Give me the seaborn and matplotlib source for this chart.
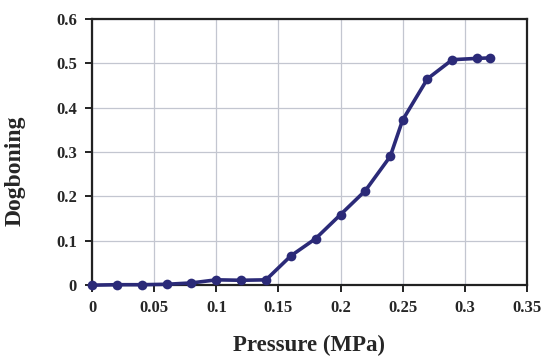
import matplotlib
matplotlib.use("Agg")
import matplotlib.pyplot as plt
import pandas as pd
import seaborn as sns

# Pressure vs dogboning readings
pressure = [0.0, 0.02, 0.04, 0.06, 0.08, 0.10, 0.12, 0.14, 0.16, 0.18,
            0.20, 0.22, 0.24, 0.25, 0.27, 0.29, 0.31, 0.32]
dogboning = [0.0, 0.001, 0.001, 0.002, 0.005, 0.012, 0.011, 0.012, 0.066, 0.105,
             0.159, 0.213, 0.290, 0.372, 0.465, 0.508, 0.511, 0.512]

x_ticks = [0, 0.05, 0.1, 0.15, 0.2, 0.25, 0.3, 0.35]
x_tick_labels = ["0", "0.05", "0.1", "0.15", "0.2", "0.25", "0.3", "0.35"]
y_ticks = [0, 0.1, 0.2, 0.3, 0.4, 0.5, 0.6]
y_tick_labels = ["0", "0.1", "0.2", "0.3", "0.4", "0.5", "0.6"]

df = pd.DataFrame({"pressure": pressure, "dogboning": dogboning})

sns.set_theme(style="whitegrid")
plt.rcParams["font.family"] = ["Liberation Serif", "DejaVu Serif"]

fig = plt.figure(figsize=(5.42, 3.56), dpi=100)
ax = fig.add_axes([0.170, 0.199, 0.802, 0.748])

line_color = "#2b2a78"
sns.lineplot(data=df, x="pressure", y="dogboning", ax=ax, color=line_color,
             linewidth=2.6, marker="o", markersize=7, markeredgewidth=0,
             zorder=3, clip_on=False)

ax.set_xlim(0, 0.35)
ax.set_ylim(0, 0.6)
ax.set_xticks(x_ticks)
ax.set_xticklabels(x_tick_labels, fontsize=12, fontweight="bold")
ax.set_yticks(y_ticks)
ax.set_yticklabels(y_tick_labels, fontsize=12, fontweight="bold")

ax.grid(True, color="#c3c6d0", linewidth=0.9)
for side in ["left", "right", "top", "bottom"]:
    ax.spines[side].set_visible(True)
    ax.spines[side].set_color("#222222")
    ax.spines[side].set_linewidth(1.6)

ax.tick_params(axis="both", which="both", direction="out", length=5,
               width=1.4, color="#222222", pad=6, bottom=True, left=True)

ax.set_xlabel("Pressure (MPa)", fontsize=16.5, fontweight="bold")
ax.set_ylabel("Dogboning", fontsize=17, fontweight="bold")
ax.xaxis.set_label_coords(0.5, -0.185)
ax.yaxis.set_label_coords(-0.152, 0.43)

fig.savefig("out.png", dpi=100)
